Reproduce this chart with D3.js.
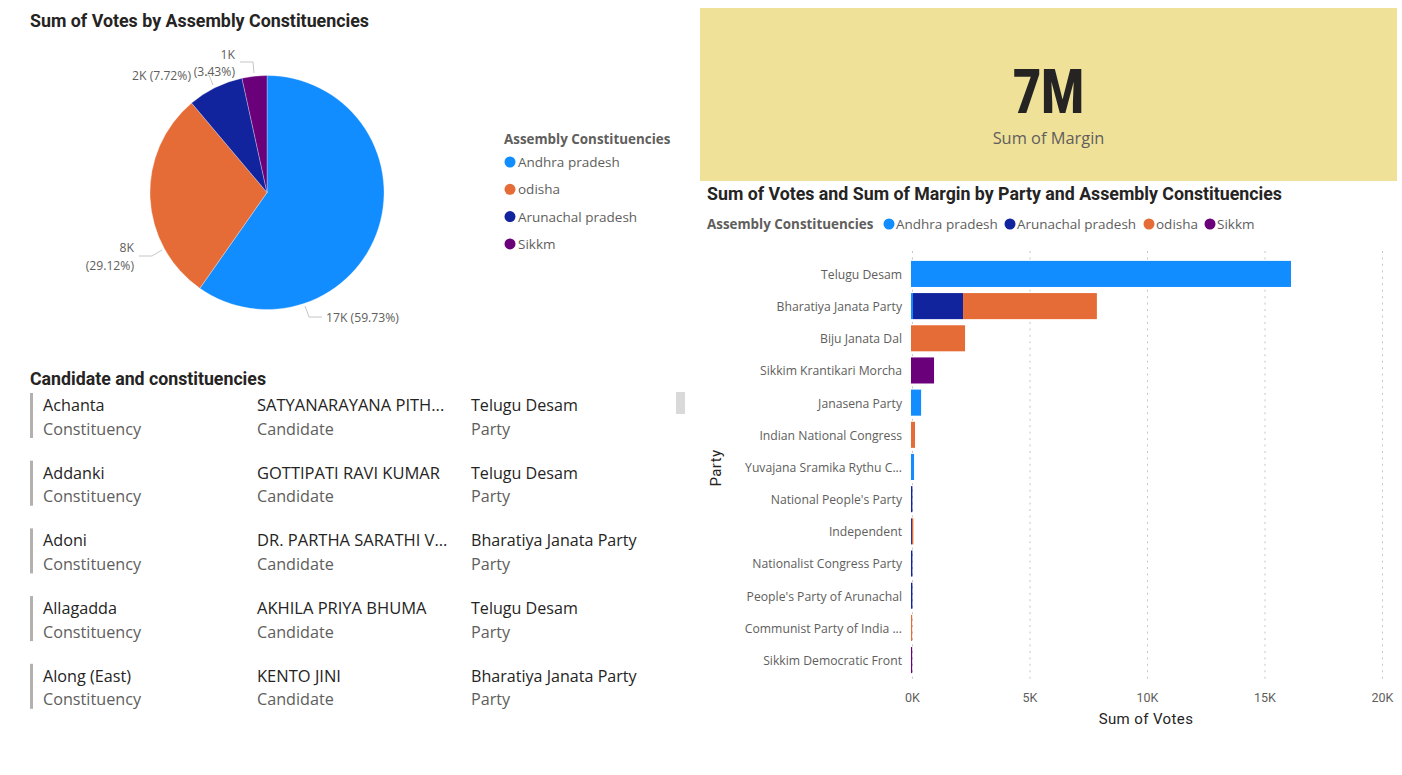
<!DOCTYPE html>
<html>
<head>
<meta charset="utf-8">
<title>Assembly Constituencies</title>
<script src="https://cdn.jsdelivr.net/npm/d3@7"></script>
<style>
  html, body { margin: 0; padding: 0; background: #fff; }
  svg { display: block; }
  text { font-family: "Open Sans", "Noto Sans", sans-serif; }
  .title { font-family: Roboto, sans-serif; font-weight: 700; font-size: 18px; fill: #252423; }
</style>
</head>
<body>
<script>
// data
var pieLegend = ["Andhra pradesh", "odisha", "Arunachal pradesh", "Sikkm"];
var regionVotes = [16799, 8190, 2171, 965];
var barLegend = ["Andhra pradesh", "Arunachal pradesh", "odisha", "Sikkm"];

var parties = ["Telugu Desam", "Bharatiya Janata Party", "Biju Janata Dal", "Sikkim Krantikari Morcha",
  "Janasena Party", "Indian National Congress", "Yuvajana Sramika Rythu C...", "National People's Party",
  "Independent", "Nationalist Congress Party", "People's Party of Arunachal", "Communist Party of India ...",
  "Sikkim Democratic Front"];
var andhraVotes =    [16170, 85, 0, 0, 430, 0, 130, 0, 0, 0, 0, 0, 0];
var arunachalVotes = [0, 2130, 0, 0, 0, 0, 0, 60, 40, 60, 60, 0, 0];
var odishaVotes =    [0, 5695, 2300, 0, 0, 170, 0, 0, 60, 0, 0, 50, 0];
var sikkimVotes =    [0, 0, 0, 980, 0, 0, 0, 0, 0, 0, 0, 0, 50];
var xTicks = [0, 5000, 10000, 15000, 20000];

var constituencies = ["Achanta", "Addanki", "Adoni", "Allagadda", "Along (East)"];
var candidates = ["SATYANARAYANA PITH...", "GOTTIPATI RAVI KUMAR", "DR. PARTHA SARATHI V...", "AKHILA PRIYA BHUMA", "KENTO JINI"];
var candidateParties = ["Telugu Desam", "Telugu Desam", "Bharatiya Janata Party", "Telugu Desam", "Bharatiya Janata Party"];

var colors = { "Andhra pradesh": "#118DFF", "odisha": "#E66C37", "Arunachal pradesh": "#12239E", "Sikkm": "#6B007B" };

var svg = d3.select("body").append("svg").attr("width", 1402).attr("height", 775);

function title(txt, x, y, len) {
  svg.append("text").attr("class", "title").attr("x", x).attr("y", y)
    .attr("textLength", len).attr("lengthAdjust", "spacingAndGlyphs").text(txt);
}

// ---- pie ----
title("Sum of Votes by Assembly Constituencies", 30, 27, 339);

var pieData = d3.pie().sort(null)(regionVotes);
var arc = d3.arc().innerRadius(0).outerRadius(117);
var total = d3.sum(regionVotes);

// leader lines go under the slices and labels, same order as the slices
var leaderPaths = [
  [[305, 306], [309, 317], [322, 317]],
  [[162, 250], [152, 256], [139, 256]],
  [[213, 85], [209, 75], [205, 75]],
  [[254, 73], [253, 62], [240, 62]]
];
svg.selectAll("path.lead").data(leaderPaths).enter().append("path")
  .attr("class", "lead")
  .attr("fill", "none").attr("stroke", "#c8c6c4").attr("stroke-width", 1)
  .attr("d", d3.line());

var pieG = svg.append("g").attr("transform", "translate(267,192.5)");
pieG.selectAll("path").data(pieData).enter().append("path")
  .attr("d", arc)
  .attr("fill", function(d, i) { return colors[pieLegend[i]]; })
  .attr("stroke", "#fff").attr("stroke-width", 0.3);

var fmtK = function(v) { return d3.format(".0f")(v / 1000) + "K"; };
var fmtP = function(v) { return "(" + d3.format(".2f")(v / total * 100) + "%)"; };

function pieLabel(x, y, txt, anchor) {
  svg.append("text").attr("x", x).attr("y", y).attr("text-anchor", anchor || "start")
    .attr("font-size", 12.2).attr("fill", "#605e5c").text(txt);
}
pieLabel(326, 322, fmtK(regionVotes[0]) + " " + fmtP(regionVotes[0]));
pieLabel(134, 252, fmtK(regionVotes[1]), "end");
pieLabel(134, 270, fmtP(regionVotes[1]), "end");
pieLabel(191, 80, fmtK(regionVotes[2]) + " " + fmtP(regionVotes[2]), "end");
pieLabel(235, 59, fmtK(regionVotes[3]), "end");
pieLabel(235, 76, fmtP(regionVotes[3]), "end");

// pie legend
svg.append("text").attr("x", 504).attr("y", 144).attr("font-size", 13.4).attr("font-weight", 700)
  .attr("fill", "#605e5c").text("Assembly Constituencies");
var pieLeg = svg.selectAll("g.pl").data(pieLegend).enter().append("g").attr("class", "pl")
  .attr("transform", function(d, i) { return "translate(510," + (162 + i * 27.3) + ")"; });
pieLeg.append("circle").attr("r", 5.5).attr("fill", function(d) { return colors[d]; });
pieLeg.append("text").attr("x", 8).attr("y", 5).attr("font-size", 13.5).attr("fill", "#605e5c").text(function(d) { return d; });

// ---- card ----
svg.append("rect").attr("x", 700).attr("y", 8).attr("width", 697).attr("height", 173).attr("fill", "#F0E199");
svg.append("text").attr("x", 1013).attr("y", 113)
  .attr("textLength", 71).attr("lengthAdjust", "spacingAndGlyphs")
  .style("font-family", "Roboto").attr("font-weight", 900).attr("font-size", 62)
  .attr("fill", "#252423").text("7M");
svg.append("text").attr("x", 1048.5).attr("y", 144).attr("text-anchor", "middle")
  .attr("font-size", 16.4).attr("fill", "#605e5c").text("Sum of Margin");

// ---- multi row card ----
title("Candidate and constituencies", 30, 385, 236);
var rows = svg.selectAll("g.row").data(constituencies).enter().append("g").attr("class", "row")
  .attr("transform", function(d, i) { return "translate(0," + (i * 67.7) + ")"; });
rows.append("rect").attr("x", 30).attr("y", 393).attr("width", 3).attr("height", 45).attr("fill", "#B3B0AD");

function cell(x, vals, label, size) {
  rows.append("text").attr("x", x).attr("y", 411).attr("font-size", size).attr("fill", "#252423")
    .text(function(d, i) { return vals[i]; });
  rows.append("text").attr("x", x).attr("y", 434.6).attr("font-size", 16.2).attr("fill", "#605e5c").text(label);
}
cell(43, constituencies, "Constituency", 16.2);
cell(257, candidates, "Candidate", 16.5);
cell(471, candidateParties, "Party", 16.1);
svg.append("rect").attr("x", 676).attr("y", 392).attr("width", 9).attr("height", 22).attr("fill", "#D9D9D9");

// ---- stacked bars ----
title("Sum of Votes and Sum of Margin by Party and Assembly Constituencies", 707, 200, 575);

svg.append("text").attr("x", 707).attr("y", 229).attr("font-size", 13.4).attr("font-weight", 700)
  .attr("fill", "#605e5c").text("Assembly Constituencies");
var legX = [889, 1010, 1149, 1210];
var barLeg = svg.selectAll("g.bl").data(barLegend).enter().append("g").attr("class", "bl")
  .attr("transform", function(d, i) { return "translate(" + legX[i] + ",224)"; });
barLeg.append("circle").attr("r", 5.5).attr("fill", function(d) { return colors[d]; });
barLeg.append("text").attr("x", 7).attr("y", 5).attr("font-size", 13.5).attr("fill", "#605e5c").text(function(d) { return d; });

var x = d3.scaleLinear().domain([0, 20000]).range([911, 1381]);
var y = d3.scaleBand().domain(parties).range([258, 676]).paddingInner(0.19).paddingOuter(0.09);

var table = parties.map(function(p, i) {
  return { party: p, "Andhra pradesh": andhraVotes[i], "Arunachal pradesh": arunachalVotes[i], "odisha": odishaVotes[i], "Sikkm": sikkimVotes[i] };
});
var stack = d3.stack().keys(barLegend)(table);

// gridlines
var gridG = svg.append("g").attr("transform", "translate(1,251)")
  .call(d3.axisBottom(x).tickValues(xTicks).tickSize(432).tickFormat(""));
gridG.select(".domain").remove();
gridG.selectAll("line").attr("stroke", "#c8c6c4").attr("stroke-dasharray", "2,4.45");

svg.selectAll("g.series").data(stack).enter().append("g").attr("class", "series")
  .attr("fill", function(d) { return colors[d.key]; })
  .selectAll("rect").data(function(d) { return d; }).enter().append("rect")
  .attr("x", function(d) { return x(d[0]); })
  .attr("y", function(d) { return y(d.data.party); })
  .attr("width", function(d) { return x(d[1]) - x(d[0]); })
  .attr("height", y.bandwidth());

var yAxis = svg.append("g").attr("transform", "translate(911,1)")
  .call(d3.axisLeft(y).tickSize(0).tickPadding(9));
yAxis.select(".domain").remove();
yAxis.selectAll("text").attr("font-size", 12.2).attr("fill", "#605e5c")
  .style("font-family", "'Open Sans', sans-serif");

var xAxis = svg.append("g").attr("transform", "translate(1,690)")
  .call(d3.axisBottom(x).tickValues(xTicks).tickSize(0).tickPadding(3)
    .tickFormat(function(d) { return d / 1000 + "K"; }));
xAxis.select(".domain").remove();
xAxis.selectAll("text").attr("font-size", 12.5).attr("fill", "#605e5c")
  .style("font-family", "Roboto, sans-serif");

svg.append("text").attr("x", 1146).attr("y", 724).attr("text-anchor", "middle")
  .style("font-family", "Roboto, sans-serif").attr("letter-spacing", 0.4)
  .attr("font-size", 15).attr("fill", "#252423").text("Sum of Votes");
svg.append("text").attr("transform", "translate(721,468) rotate(-90)").attr("text-anchor", "middle")
  .style("font-family", "Roboto, sans-serif").attr("letter-spacing", 0.4)
  .attr("font-size", 15).attr("fill", "#252423").text("Party");
</script>
</body>
</html>
